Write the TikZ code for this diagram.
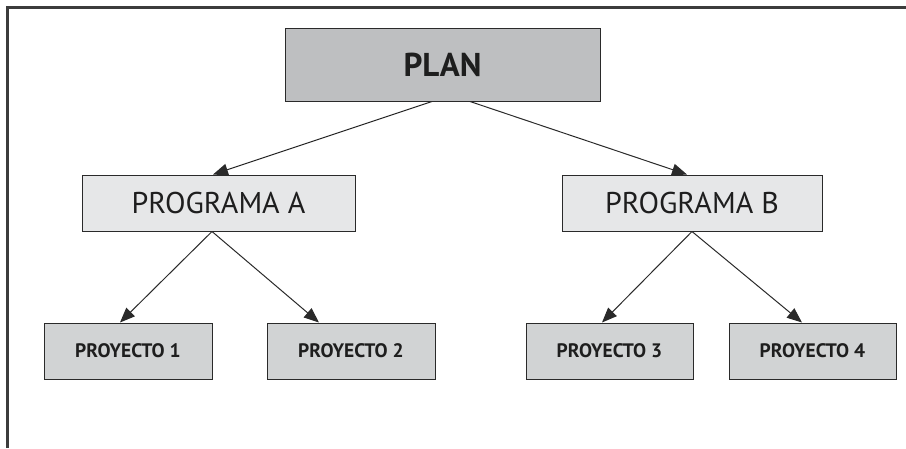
\documentclass[tikz,border=0pt]{standalone}
\usepackage{fontspec}
\setmainfont{PT Sans}
\usetikzlibrary{arrows.meta}
\definecolor{planfill}{HTML}{BEBFC1}
\definecolor{progfill}{HTML}{E6E7E8}
\definecolor{proyfill}{HTML}{D1D3D4}
\definecolor{framecol}{HTML}{3C3C3C}
\definecolor{edgecol}{HTML}{2A2A2A}
\definecolor{textcol}{HTML}{1E1E1E}
\begin{document}
\begin{tikzpicture}[x=1pt,y=-1pt,
  boxbase/.style={draw=edgecol, line width=1pt, inner sep=0pt, text=textcol},
  planbox/.style={boxbase, fill=planfill, minimum width=315pt, minimum height=73pt,
    font=\fontsize{33}{33}\selectfont\bfseries},
  progbox/.style={boxbase, fill=progfill, minimum height=56pt,
    font=\fontsize{30}{30}\selectfont},
  proybox/.style={boxbase, fill=proyfill, minimum width=168pt, minimum height=56pt,
    font=\fontsize{19.5}{19.5}\selectfont\bfseries},
  conn/.style={draw=edgecol, line width=1pt, -{Triangle[length=15pt,width=12pt]}}
]
\useasboundingbox (0,0) rectangle (906,448);
\draw[framecol, line width=2.4pt] (7.5,448) -- (7.5,7.5) -- (906,7.5);

\node[planbox] (plan) at (442.5,64.5) {PLAN};
\node[progbox, minimum width=273pt] (proga) at (218.5,203) {PROGRAMA A};
\node[progbox, minimum width=260pt] (progb) at (692,203) {PROGRAMA B};
\node[proybox] (p1) at (128,351) {PROYECTO 1};
\node[proybox] (p2) at (351,351) {PROYECTO 2};
\node[proybox, minimum width=167pt] (p3) at (609.5,351) {PROYECTO 3};
\node[proybox, minimum width=167pt] (p4) at (812.5,351) {PROYECTO 4};

\draw[conn] ([xshift=-10.5pt]plan.south) -- ([xshift=-5.5pt]proga.north);
\draw[conn] ([xshift=27.5pt]plan.south) -- ([xshift=-5pt]progb.north);
\draw[conn] ([xshift=-6.5pt]proga.south) -- ([xshift=-8pt]p1.north);
\draw[conn] ([xshift=-6.5pt]proga.south) -- ([xshift=-32pt]p2.north);
\draw[conn] (progb.south) -- ([xshift=-7.5pt]p3.north);
\draw[conn] (progb.south) -- ([xshift=-10.5pt]p4.north);
\end{tikzpicture}
\end{document}
